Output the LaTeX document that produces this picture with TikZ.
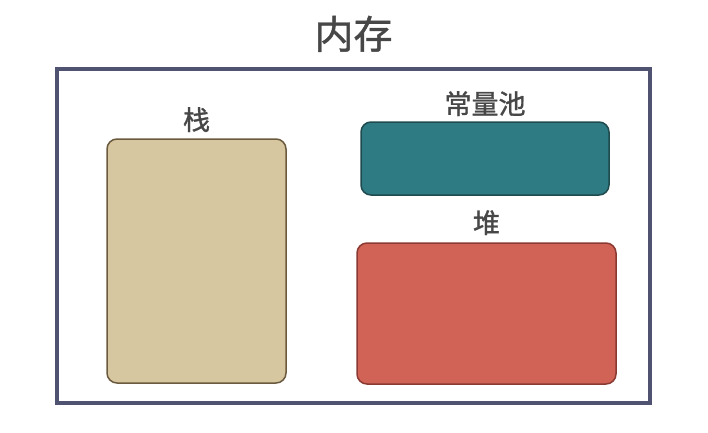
\documentclass[tikz,border=0pt]{standalone}
\usepackage{fontspec}
\setmainfont{Noto Sans CJK SC}
\newfontfamily\lblfont{Noto Sans CJK SC}[FakeBold=1.2]
\usetikzlibrary{positioning}
\definecolor{framec}{HTML}{4F5270}
\definecolor{textc}{HTML}{474747}
\definecolor{stackfill}{HTML}{D6C7A1}
\definecolor{stackline}{HTML}{6B5A3E}
\definecolor{poolfill}{HTML}{2F7B84}
\definecolor{poolline}{HTML}{1F4A4E}
\definecolor{heapfill}{HTML}{D16356}
\definecolor{heapline}{HTML}{8A3A33}

\begin{document}
\begin{tikzpicture}[x=1pt,y=-1pt,inner sep=0pt,
  area/.style={draw,line width=1.5pt,rounded corners=10pt},
  lbl/.style={text=textc,font=\fontsize{27}{29}\lblfont}]
\useasboundingbox (0,0) rectangle (708,432);
\node (mem) [draw=framec,line width=4pt,minimum width=593pt,minimum height=334pt] at (353.5,236) {};
\node (title) [lbl,font=\fontsize{39}{42}\lblfont,above=15pt of mem] {内存};
\node (stack) [area,draw=stackline,fill=stackfill,minimum width=179pt,minimum height=244pt] at (196.5,261) {};
\node (pool) [area,draw=poolline,fill=poolfill,minimum width=248pt,minimum height=73pt] at (485,158.5) {};
\node (heap) [area,draw=heapline,fill=heapfill,minimum width=259pt,minimum height=141pt] at (486.5,313.5) {};
\node (stacklbl) [lbl,above=6pt of stack] {栈};
\node (poollbl) [lbl,above=5pt of pool] {常量池};
\node (heaplbl) [lbl,above=7pt of heap] {堆};
\end{tikzpicture}
\end{document}
